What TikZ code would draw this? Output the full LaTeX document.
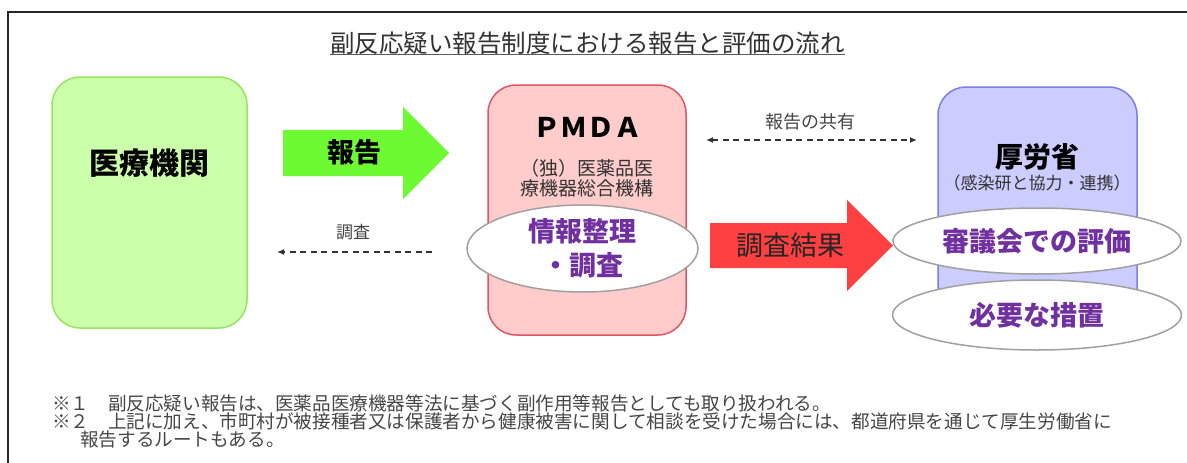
\documentclass[tikz,border=0pt]{standalone}
\usepackage{fontspec}
\newfontfamily\jp{Noto Sans CJK JP}
\usetikzlibrary{shapes.geometric,arrows.meta}
\definecolor{greenfill}{RGB}{204,255,170}
\definecolor{greenline}{RGB}{150,228,100}
\definecolor{greenarrow}{RGB}{110,250,50}
\definecolor{pinkfill}{RGB}{255,204,204}
\definecolor{pinkline}{RGB}{225,85,100}
\definecolor{redarrow}{RGB}{255,64,64}
\definecolor{bluefill}{RGB}{204,204,255}
\definecolor{blueline}{RGB}{125,125,235}
\definecolor{ellline}{RGB}{160,160,160}
\definecolor{purpletext}{RGB}{112,48,160}
\definecolor{txt}{RGB}{50,50,50}
\definecolor{ltxt}{RGB}{70,70,70}
\begin{document}
\begin{tikzpicture}[x=1pt,y=-1pt,
  orgbox/.style={rectangle, rounded corners=28pt, line width=1.5pt, inner sep=0pt},
  ellnode/.style={ellipse, draw=ellline, fill=white, line width=1.5pt, inner sep=0pt,
    align=center, text=purpletext, font=\jp\bfseries\fontsize{27}{34}\selectfont},
  blockarrow/.style={draw=none},
  dasharrow/.style={draw=txt, line width=1.3pt, dash pattern=on 6pt off 4.5pt},
  tiny/.style={inner sep=0pt, text=ltxt},
  heading/.style={inner sep=0pt, text=black, font=\jp\bfseries\fontsize{#1}{#1}\selectfont}
]
\useasboundingbox (0,0) rectangle (1187,463);
\clip (0,0) rectangle (1187,463);
\fill[white] (0,0) rectangle (1187,463);
\draw[line width=2pt, black!85] (8,12) rectangle (1200,480);

% title
\node[inner sep=0pt, text=txt, font=\jp\fontsize{24.5}{26}\selectfont] (title) at (587.5,43) {副反応疑い報告制度における報告と評価の流れ};
\draw[txt!80, line width=1pt] ([yshift=-2pt]title.base west) -- ([yshift=-2pt]title.base east);

% boxes
\node[orgbox, fill=greenfill, draw=greenline, minimum width=195pt, minimum height=251pt] (med) at (149.5,202.5) {};
\node[heading=30] (medlabel) at (149,163) {医療機関};

\node[orgbox, fill=pinkfill, draw=pinkline, minimum width=198pt, minimum height=250pt] (pmda) at (587,210) {};
\node[heading=27] (pmdalabel) at (587,127) {ＰＭＤＡ};
\node[inner sep=0pt, align=center, text=txt, font=\jp\fontsize{19}{20}\selectfont] (pmdasub) at (587,178) {（独）医薬品医\\療機器総合機構};

\node[orgbox, fill=bluefill, draw=blueline, minimum width=199pt, minimum height=233pt] (mhlw) at (1037.5,203.5) {};
\node[heading=28] (mhlwlabel) at (1037,157) {厚労省};
\node[inner sep=0pt, text=txt, font=\jp\fontsize{17}{18}\selectfont] (mhlwsub) at (1037,183) {（感染研と協力・連携）};

% block arrows
\fill[greenarrow] (283,130) -- (403,130) -- (403,107) -- (449,153) -- (403,199) -- (403,176) -- (283,176) -- cycle;
\node[heading=27] (reportlabel) at (354,152) {報告};
\fill[redarrow] (710,223) -- (847,223) -- (847,200) -- (893,245.5) -- (847,291) -- (847,268) -- (710,268) -- cycle;
\node[inner sep=0pt, text=black!85, font=\jp\fontsize{27}{27}\selectfont] (resultlabel) at (790,245) {調査結果};

% ellipses
\node[ellnode, minimum width=231pt, minimum height=87pt] (info) at (582.5,248.5) {情報整理\\・調査};
\node[ellnode, minimum width=288pt, minimum height=66pt] (eval) at (1037,241) {審議会での評価};
\node[ellnode, minimum width=289pt, minimum height=70pt] (measure) at (1037,315) {必要な措置};

% dashed arrows
\coordinate (shareL) at (706,140);
\coordinate (shareR) at (917,140);
\draw[dasharrow, {Latex[length=7pt,width=6pt]}-{Latex[length=7pt,width=6pt]}] (shareL) -- (shareR);
\node[tiny, font=\jp\fontsize{18}{18}\selectfont] (sharelabel) at (810,122) {報告の共有};

\coordinate (invS) at (432,252);
\coordinate (invE) at (277,252);
\draw[dasharrow, -{Latex[length=7pt,width=6pt]}] (invS) -- (invE);
\node[tiny, font=\jp\fontsize{17}{17}\selectfont] (invlabel) at (353,232) {調査};

% footnotes
\node[tiny, anchor=west, font=\jp\fontsize{18.6}{19}\selectfont] (note1) at (52,403) {※１　副反応疑い報告は、医薬品医療機器等法に基づく副作用等報告としても取り扱われる。};
\node[tiny, anchor=west, font=\jp\fontsize{18.6}{19}\selectfont] (note2) at (52,421) {※２　上記に加え、市町村が被接種者又は保護者から健康被害に関して相談を受けた場合には、都道府県を通じて厚生労働省に};
\node[tiny, anchor=west, font=\jp\fontsize{18.6}{19}\selectfont] (note3) at (80,440) {報告するルートもある。};
\end{tikzpicture}
\end{document}
